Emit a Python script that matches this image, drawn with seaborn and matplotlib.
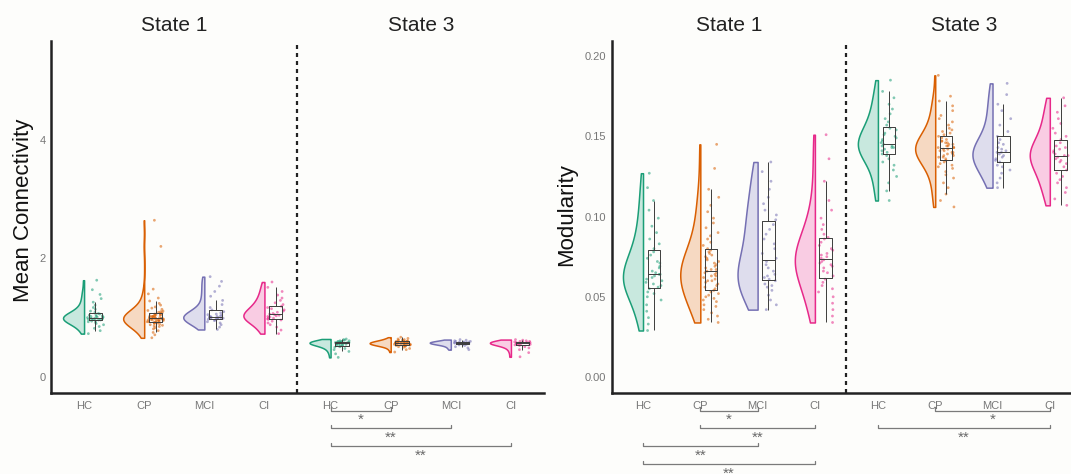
import numpy as np
import pandas as pd
import seaborn as sns
import matplotlib.pyplot as plt
from matplotlib.transforms import blended_transform_factory
from matplotlib.colors import to_rgb

# ---------------------------------------------------------------- data
GROUPS = ["HC", "CP", "MCI", "CI"]
STATES = ["State 1", "State 3"]
GROUP_COLORS = ["#1B9E77", "#D95F02", "#7570B3", "#E7298A"]

# Mean connectivity, state 1
conn_s1_hc = [0.73, 0.78, 0.82, 0.85, 0.88, 0.90, 0.92, 0.93, 0.94, 0.95, 0.96, 0.96, 0.97,
              0.97, 0.98, 0.98, 0.99, 0.99, 1.00, 1.00, 1.01, 1.01, 1.02, 1.02, 1.03, 1.04,
              1.05, 1.06, 1.07, 1.09, 1.11, 1.14, 1.17, 1.21, 1.26, 1.32, 1.39, 1.47, 1.63]
conn_s1_cp = [0.66, 0.71, 0.75, 0.78, 0.81, 0.83, 0.85, 0.86, 0.87, 0.88, 0.89, 0.90, 0.91,
              0.91, 0.92, 0.92, 0.93, 0.93, 0.94, 0.94, 0.95, 0.95, 0.96, 0.96, 0.96, 0.97,
              0.97, 0.97, 0.98, 0.98, 0.98, 0.99, 0.99, 0.99, 1.00, 1.00, 1.00, 1.01, 1.01,
              1.02, 1.02, 1.03, 1.03, 1.04, 1.04, 1.05, 1.05, 1.06, 1.07, 1.08, 1.09, 1.10,
              1.11, 1.12, 1.14, 1.16, 1.18, 1.21, 1.24, 1.28, 1.33, 1.40, 1.48, 2.20, 2.64]
conn_s1_mci = [0.80, 0.84, 0.88, 0.91, 0.93, 0.95, 0.96, 0.97, 0.98, 0.98, 0.99, 0.99, 1.00,
               1.00, 1.00, 1.01, 1.01, 1.02, 1.02, 1.03, 1.04, 1.05, 1.06, 1.08, 1.10, 1.13,
               1.17, 1.22, 1.29, 1.36, 1.44, 1.53, 1.61, 1.69]
conn_s1_ci = [0.73, 0.79, 0.84, 0.88, 0.91, 0.94, 0.96, 0.97, 0.98, 0.99, 1.00, 1.01, 1.02,
              1.03, 1.04, 1.05, 1.06, 1.07, 1.09, 1.11, 1.13, 1.15, 1.17, 1.19, 1.22, 1.25,
              1.29, 1.33, 1.38, 1.44, 1.51, 1.60]

# Mean connectivity, state 3
conn_s3_hc = [0.33, 0.39, 0.43, 0.46, 0.48, 0.50, 0.51, 0.52, 0.53, 0.54, 0.54, 0.55, 0.55,
              0.56, 0.56, 0.57, 0.57, 0.57, 0.58, 0.58, 0.58, 0.59, 0.59, 0.59, 0.60, 0.60,
              0.61, 0.61, 0.62, 0.63, 0.64]
conn_s3_cp = [0.42, 0.46, 0.48, 0.50, 0.51, 0.52, 0.52, 0.53, 0.53, 0.54, 0.54, 0.54, 0.55,
              0.55, 0.55, 0.56, 0.56, 0.56, 0.56, 0.57, 0.57, 0.57, 0.57, 0.58, 0.58, 0.58,
              0.58, 0.59, 0.59, 0.59, 0.60, 0.60, 0.60, 0.61, 0.61, 0.62, 0.62, 0.63, 0.64,
              0.65, 0.67]
conn_s3_mci = [0.46, 0.49, 0.51, 0.53, 0.54, 0.55, 0.55, 0.56, 0.56, 0.57, 0.57, 0.57, 0.58,
               0.58, 0.58, 0.59, 0.59, 0.59, 0.60, 0.60, 0.61, 0.62, 0.63]
conn_s3_ci = [0.34, 0.41, 0.46, 0.49, 0.51, 0.53, 0.54, 0.55, 0.55, 0.56, 0.56, 0.57, 0.57,
              0.57, 0.58, 0.58, 0.58, 0.59, 0.59, 0.60, 0.60, 0.61, 0.62, 0.63]

# Modularity, state 1
mod_s1_hc = [0.029, 0.033, 0.037, 0.041, 0.045, 0.048, 0.050, 0.052, 0.053, 0.055, 0.056,
             0.057, 0.058, 0.059, 0.060, 0.061, 0.062, 0.063, 0.064, 0.064, 0.065, 0.066,
             0.068, 0.069, 0.071, 0.072, 0.074, 0.076, 0.078, 0.080, 0.083, 0.086, 0.090,
             0.094, 0.099, 0.104, 0.110, 0.118, 0.127]
mod_s1_cp = [0.034, 0.036, 0.038, 0.040, 0.042, 0.044, 0.045, 0.047, 0.048, 0.049, 0.050,
             0.051, 0.052, 0.053, 0.054, 0.055, 0.056, 0.057, 0.058, 0.059, 0.060, 0.060,
             0.061, 0.062, 0.063, 0.063, 0.064, 0.065, 0.065, 0.066, 0.067, 0.067, 0.068,
             0.069, 0.070, 0.071, 0.072, 0.073, 0.074, 0.075, 0.076, 0.077, 0.078, 0.079,
             0.080, 0.082, 0.084, 0.086, 0.088, 0.090, 0.093, 0.096, 0.099, 0.103, 0.107,
             0.112, 0.117, 0.130, 0.145]
mod_s1_mci = [0.042, 0.045, 0.048, 0.051, 0.054, 0.056, 0.057, 0.058, 0.060, 0.061, 0.062,
              0.063, 0.064, 0.066, 0.068, 0.070, 0.072, 0.074, 0.077, 0.080, 0.083, 0.086,
              0.089, 0.092, 0.095, 0.098, 0.101, 0.104, 0.108, 0.112, 0.117, 0.122, 0.128,
              0.134]
mod_s1_ci = [0.034, 0.038, 0.042, 0.046, 0.050, 0.053, 0.055, 0.057, 0.059, 0.061, 0.063,
             0.065, 0.066, 0.068, 0.069, 0.070, 0.071, 0.072, 0.073, 0.074, 0.075, 0.076,
             0.077, 0.079, 0.080, 0.082, 0.084, 0.086, 0.087, 0.089, 0.092, 0.095, 0.099,
             0.104, 0.110, 0.122, 0.136, 0.151]

# Modularity, state 3
mod_s3_hc = [0.110, 0.116, 0.121, 0.125, 0.129, 0.132, 0.134, 0.136, 0.138, 0.139, 0.140,
             0.141, 0.142, 0.143, 0.143, 0.144, 0.144, 0.145, 0.146, 0.147, 0.148, 0.149,
             0.150, 0.151, 0.152, 0.154, 0.155, 0.157, 0.159, 0.161, 0.164, 0.167, 0.170,
             0.174, 0.178, 0.185]
mod_s3_cp = [0.106, 0.110, 0.114, 0.118, 0.121, 0.124, 0.126, 0.128, 0.130, 0.131, 0.132,
             0.133, 0.134, 0.135, 0.136, 0.137, 0.137, 0.138, 0.138, 0.139, 0.139, 0.140,
             0.140, 0.141, 0.141, 0.142, 0.142, 0.143, 0.143, 0.143, 0.144, 0.144, 0.145,
             0.145, 0.146, 0.146, 0.147, 0.147, 0.148, 0.149, 0.150, 0.151, 0.152, 0.153,
             0.154, 0.155, 0.157, 0.159, 0.161, 0.163, 0.166, 0.169, 0.172, 0.175, 0.188]
mod_s3_mci = [0.118, 0.121, 0.124, 0.127, 0.129, 0.131, 0.132, 0.134, 0.135, 0.136, 0.137,
              0.138, 0.139, 0.140, 0.140, 0.141, 0.142, 0.143, 0.145, 0.146, 0.148, 0.150,
              0.153, 0.157, 0.161, 0.166, 0.170, 0.176, 0.183]
mod_s3_ci = [0.107, 0.111, 0.115, 0.118, 0.121, 0.123, 0.125, 0.127, 0.129, 0.131, 0.133,
             0.134, 0.135, 0.136, 0.137, 0.138, 0.138, 0.139, 0.140, 0.141, 0.142, 0.143,
             0.144, 0.146, 0.148, 0.150, 0.152, 0.155, 0.158, 0.161, 0.165, 0.169, 0.174]

# Pairwise comparisons: (state, group a, group b, label, bracket row)
conn_comparisons = [
    ("State 3", "HC", "CP", "*", 0),
    ("State 3", "HC", "MCI", "**", 1),
    ("State 3", "HC", "CI", "**", 2),
]
mod_comparisons = [
    ("State 1", "CP", "MCI", "*", 0),
    ("State 1", "CP", "CI", "**", 1),
    ("State 1", "HC", "MCI", "**", 2),
    ("State 1", "HC", "CI", "**", 3),
    ("State 3", "CP", "CI", "*", 0),
    ("State 3", "HC", "CI", "**", 1),
]

conn_values = {
    "State 1": [conn_s1_hc, conn_s1_cp, conn_s1_mci, conn_s1_ci],
    "State 3": [conn_s3_hc, conn_s3_cp, conn_s3_mci, conn_s3_ci],
}
mod_values = {
    "State 1": [mod_s1_hc, mod_s1_cp, mod_s1_mci, mod_s1_ci],
    "State 3": [mod_s3_hc, mod_s3_cp, mod_s3_mci, mod_s3_ci],
}

# ---------------------------------------------------------------- layout
STATE_OFFSET = {"State 1": 0.0, "State 3": 4.1}   # each facet spans 4.1 units
FACET_HALF = 0.55
BOX_SHIFT = 0.19
VIOLIN_WIDTH = 0.35                               # reach of each half violin
BG = "#fdfdfb"


def long_table(values):
    rows = []
    for state in STATES:
        for gi, (group, vals) in enumerate(zip(GROUPS, values[state])):
            pos = gi + STATE_OFFSET[state]
            for v in vals:
                rows.append((state, group, pos, pos + BOX_SHIFT, v))
    return pd.DataFrame(rows, columns=["state", "group", "pos", "box_pos", "value"])


def lighten(color, amount=0.24):
    r, g, b = to_rgb(color)
    return (1 - amount + amount * r, 1 - amount + amount * g, 1 - amount + amount * b)


def draw_panel(ax, df, xlim, ylim, yticks, yticklabels, comparisons):
    # half violins: a split violin without hue keeps its flat side at
    # position + width/2, so shift it to sit flush with the category
    for (state, group), sub in df.groupby(["state", "group"], sort=False):
        color = GROUP_COLORS[GROUPS.index(group)]
        sub = sub.assign(vpos=sub["pos"] - VIOLIN_WIDTH / 2)
        sns.violinplot(data=sub, x="vpos", y="value", split=True,
                       native_scale=True, orient="x", inner=None, cut=0,
                       density_norm="width", width=VIOLIN_WIDTH,
                       color=lighten(color), linecolor=color, linewidth=1.1,
                       saturation=1, ax=ax)

    # raw observations
    sns.stripplot(data=df, x="box_pos", y="value", hue="group", hue_order=GROUPS,
                  palette=GROUP_COLORS, native_scale=True, orient="x", jitter=0.14,
                  size=2.0, alpha=0.55, linewidth=0, legend=False, ax=ax, zorder=2)

    # boxplots
    sns.boxplot(data=df, x="box_pos", y="value", native_scale=True, orient="x",
                fill=False, color="#3c3c3c", width=0.22, linewidth=0.7,
                showfliers=False, showcaps=False, ax=ax, zorder=3)

    ax.set_xlim(*xlim)
    ax.set_ylim(*ylim)
    ticks = [gi + STATE_OFFSET[s] for s in STATES for gi in range(len(GROUPS))]
    ax.set_xticks(ticks)
    ax.set_xticklabels(GROUPS * len(STATES))
    ax.set_yticks(yticks)
    ax.set_yticklabels(yticklabels)
    ax.set_xlabel("")
    ax.set_ylabel("")
    ax.tick_params(axis="both", length=2, width=0.6, color="#777777",
                   labelcolor="#777777", pad=2)
    ax.tick_params(axis="x", labelsize=8, pad=4)
    ax.tick_params(axis="y", labelsize=8)
    for side in ("top", "right"):
        ax.spines[side].set_visible(False)
    for side in ("left", "bottom"):
        ax.spines[side].set_color("#222222")
        ax.spines[side].set_linewidth(1.8)
    ax.set_facecolor(BG)

    # facet divider
    ax.axvline(3 + FACET_HALF, color="#222222", lw=1.6, ls=(0, (1.8, 1.8)), zorder=1)

    trans = blended_transform_factory(ax.transData, ax.transAxes)
    for state in STATES:
        centre = STATE_OFFSET[state] + 1.5
        ax.text(centre, 1.043, state, transform=trans, ha="center", va="center",
                fontsize=15, color="#222222", clip_on=False)

    # significance brackets below the axis
    for state, ga, gb, label, row in comparisons:
        xa = GROUPS.index(ga) + STATE_OFFSET[state]
        xb = GROUPS.index(gb) + STATE_OFFSET[state]
        y = -0.05 - 0.0505 * row
        ax.plot([xa, xa, xb, xb], [y + 0.009, y, y, y + 0.009], transform=trans,
                color="#7a7a7a", lw=0.9, clip_on=False)
        ax.text((xa + xb) / 2, y - 0.007, label, transform=trans, ha="center",
                va="top", fontsize=11, color="#6a6a6a", clip_on=False)


sns.set_style("white")
plt.rcParams["font.family"] = ["Liberation Sans", "DejaVu Sans"]
np.random.seed(7)

W, H = 1071, 474
fig = plt.figure(figsize=(W / 100, H / 100), dpi=100, facecolor=BG)

ax_top, ax_bottom = 41, 393
left_ax = fig.add_axes([51 / W, 1 - ax_bottom / H, 493 / W, (ax_bottom - ax_top) / H])
right_ax = fig.add_axes([611.5 / W, 1 - ax_bottom / H, (W - 611.5) / W,
                         (ax_bottom - ax_top) / H])

draw_panel(left_ax, long_table(conn_values), xlim=(-0.55, 7.65), ylim=(-0.27, 5.66),
           yticks=[0, 2, 4], yticklabels=["0", "2", "4"], comparisons=conn_comparisons)
draw_panel(right_ax, long_table(mod_values), xlim=(-0.55, 7.47), ylim=(-0.00995, 0.2094),
           yticks=[0.0, 0.05, 0.10, 0.15, 0.20],
           yticklabels=["0.00", "0.05", "0.10", "0.15", "0.20"],
           comparisons=mod_comparisons)

fig.text(24 / W, 1 - 210 / H, "Mean Connectivity", rotation=90, ha="center", va="center",
         fontsize=16, color="#111111")
fig.text(567 / W, 1 - 215 / H, "Modularity", rotation=90, ha="center", va="center",
         fontsize=16, color="#111111")

fig.savefig("out.png", dpi=100, facecolor=BG)
